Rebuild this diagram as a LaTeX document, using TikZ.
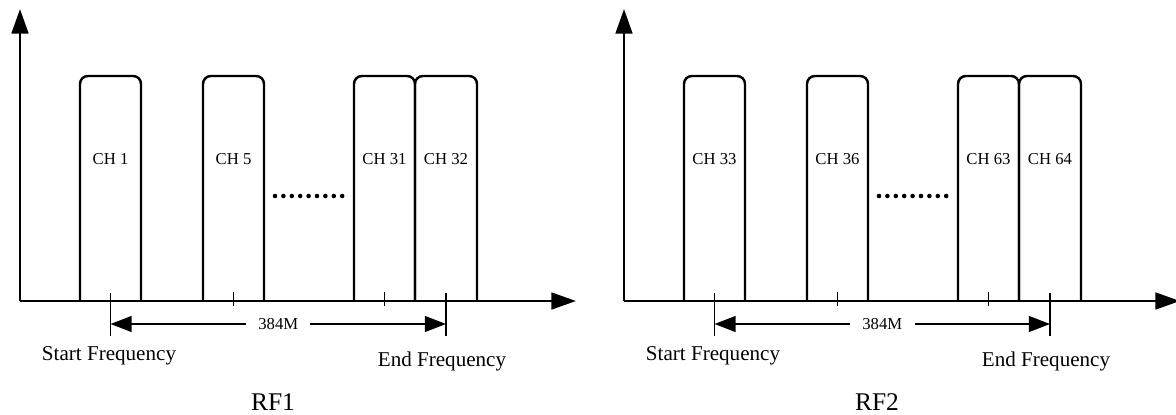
\documentclass[tikz,border=0pt]{standalone}
\usepackage{fontspec}
\setmainfont{Liberation Serif}
\usetikzlibrary{arrows.meta}

\begin{document}
\begin{tikzpicture}[x=0.02cm,y=-0.02cm,
   axis/.style={line width=1.5pt,-{Triangle[length=14pt,width=9.5pt]}},
   chan/.style={line width=1.4pt,rounded corners=4.5pt},
   tickmark/.style={line width=1.1pt},
   span/.style={line width=0.9pt,{Triangle[length=12pt,width=9pt]}-{Triangle[length=12pt,width=9pt]}},
   chlabel/.style={font=\fontsize{9.5}{11}\selectfont,inner sep=1pt},
   freq/.style={font=\fontsize{12}{14}\selectfont},
   rflabel/.style={font=\fontsize{14.5}{17}\selectfont}]
   \useasboundingbox (0,0) rectangle (1176,415);
   \foreach \dx/\rf/\ca/\cb/\cc/\cd in {0/1/1/5/31/32,604/2/33/36/63/64}{
   \begin{scope}[shift={(\dx,0)}]
      \coordinate (o\rf) at (20,301);
      \coordinate (ytip\rf) at (20,9);
      \coordinate (xtip\rf) at (576,301);
      \draw[axis] (o\rf) -- (ytip\rf);
      \draw[axis] (o\rf) -- (xtip\rf);
      \draw[chan] (80,301) -- (80,76) -- (141,76) -- (141,301);
      \draw[chan] (203,301) -- (203,76) -- (264,76) -- (264,301);
      \draw[chan] (354,301) -- (354,76) -- (415,76) -- (415,301);
      \draw[chan] (415,301) -- (415,76) -- (477,76) -- (477,301);
      \node[chlabel] (cha\rf) at (110.5,159) {CH \ca};
      \node[chlabel] (chb\rf) at (233.5,159) {CH \cb};
      \node[chlabel] (chc\rf) at (384.5,159) {CH \cc};
      \node[chlabel] (chd\rf) at (446,159) {CH \cd};
      \foreach \k in {0,...,8}
         \fill (275+\k*8.4,196) circle (1.3pt);
      \coordinate (st\rf) at (110.5,293);
      \coordinate (sb\rf) at (110.5,336);
      \coordinate (et\rf) at (446,293);
      \coordinate (eb\rf) at (446,336);
      \draw[tickmark] (st\rf) -- (sb\rf);
      \draw[tickmark] (et\rf) -- (eb\rf);
      \draw[tickmark] (233.5,292) -- (233.5,306);
      \draw[tickmark] (384.5,292) -- (384.5,306);
      \coordinate (sa\rf) at (110.5,324);
      \coordinate (ea\rf) at (446,324);
      \draw[span] (sa\rf) -- node[fill=white,inner xsep=7pt,font=\fontsize{9.5}{11}\selectfont] (bw\rf) {384M} (ea\rf);
      \node[freq] (start\rf) at (109,356) {Start Frequency};
      \node[freq] (end\rf) at (442,361) {End Frequency};
      \node[rflabel] (rf\rf) at (273,402) {RF\rf};
   \end{scope}}
\end{tikzpicture}
\end{document}
